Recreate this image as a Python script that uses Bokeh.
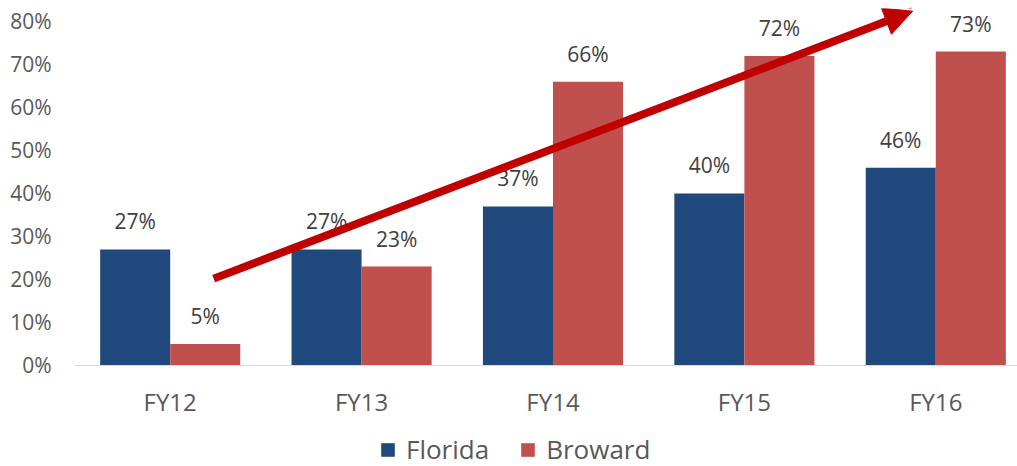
from bokeh.plotting import figure
from bokeh.models import (ColumnDataSource, Range1d, FixedTicker, NumeralTickFormatter,
                          Legend, LegendItem, Arrow, NormalHead)
from bokeh.core.properties import value
from bokeh.embed import file_html
from bokeh.resources import INLINE

categories = ["FY12", "FY13", "FY14", "FY15", "FY16"]
florida = [0.27, 0.27, 0.37, 0.40, 0.46]
broward = [0.05, 0.23, 0.66, 0.72, 0.73]
y_ticks = [0.0, 0.1, 0.2, 0.3, 0.4, 0.5, 0.6, 0.7, 0.8]

# trend arrow (data units: category index, share)
arrow_start = (0.227, 0.202)
arrow_end = (3.879, 0.824)

FL_COLOR = "#1F497D"
BR_COLOR = "#C0504D"
FONT = "Open Sans"

idx = list(range(len(categories)))
bar_w = 0.366
src = ColumnDataSource(dict(
    xf=[i - bar_w / 2 for i in idx],
    xb=[i + bar_w / 2 for i in idx],
    fl=florida, br=broward,
    fl_lab=[f"{round(v*100)}%" for v in florida],
    br_lab=[f"{round(v*100)}%" for v in broward],
))

p = figure(width=1017, height=466, output_backend="svg", toolbar_location=None,
           x_range=Range1d(-0.5, 4.427), y_range=Range1d(-0.2349, 0.8302),
           min_border_left=74, min_border_right=0, min_border_top=8, min_border_bottom=0)
p.outline_line_color = None
p.grid.visible = False
p.background_fill_color = "white"

r_fl = p.vbar(x="xf", top="fl", width=bar_w, source=src, fill_color=FL_COLOR, line_color=None)
r_br = p.vbar(x="xb", top="br", width=bar_w, source=src, fill_color=BR_COLOR, line_color=None)

for xcol, ycol, lcol in [("xf", "fl", "fl_lab"), ("xb", "br", "br_lab")]:
    p.text(x=xcol, y=ycol, text=lcol, source=src, text_align="center", text_baseline="middle",
           y_offset=-28, text_font=value(FONT), text_font_size="21px", text_color="#404040")

p.add_layout(Arrow(end=NormalHead(size=28, fill_color="#C00000", line_color="#C00000"),
                   x_start=arrow_start[0], y_start=arrow_start[1],
                   x_end=arrow_end[0], y_end=arrow_end[1],
                   line_color="#C00000", line_width=8))

# axes
p.yaxis.ticker = FixedTicker(ticks=y_ticks)
p.yaxis.formatter = NumeralTickFormatter(format="0%")
p.yaxis.axis_line_color = None
p.yaxis.major_tick_line_color = None
p.yaxis.minor_tick_line_color = None
p.yaxis.major_label_standoff = 17
p.yaxis.major_label_text_font = FONT
p.yaxis.major_label_text_font_size = "21px"
p.yaxis.major_label_text_color = "#595959"

p.xaxis.fixed_location = 0
p.xaxis.ticker = FixedTicker(ticks=idx)
p.xaxis.major_label_overrides = {i: c for i, c in zip(idx, categories)}
p.xaxis.axis_line_color = "#D9D9D9"
p.xaxis.axis_line_width = 1
p.xaxis.major_tick_line_color = None
p.xaxis.minor_tick_line_color = None
p.xaxis.major_label_standoff = 14
p.xaxis.major_label_text_font = FONT
p.xaxis.major_label_text_font_size = "24px"
p.xaxis.major_label_text_color = "#595959"

legend = Legend(items=[LegendItem(label="Florida", renderers=[r_fl]),
                       LegendItem(label="Broward", renderers=[r_br])],
                orientation="horizontal", location=(305, -1),
                label_text_font=FONT, label_text_font_size="26px", label_text_color="#595959",
                glyph_width=17, glyph_height=17, label_standoff=10, spacing=30,
                padding=0, margin=0, border_line_color=None, background_fill_alpha=0)
p.add_layout(legend, "center")

open("out.html", "w").write(file_html(p, INLINE))
